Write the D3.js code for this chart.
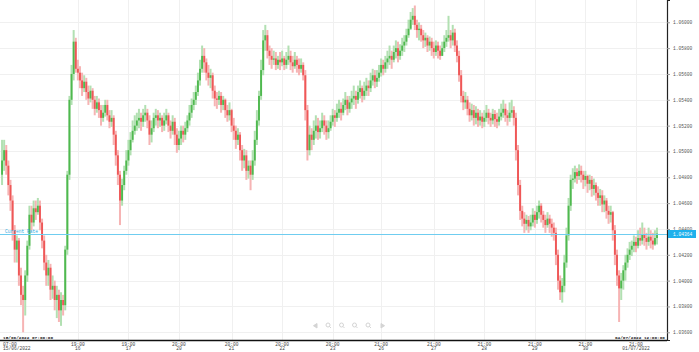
<!DOCTYPE html>
<html>
<head>
<meta charset="utf-8">
<script src="https://cdn.jsdelivr.net/npm/d3@7"></script>
<style>
  body { margin: 0; background: #fff; }
  svg { display: block; }
  text { font-family: "Liberation Mono", "DejaVu Sans Mono", monospace; }
</style>
</head>
<body>
<svg id="chart" width="699" height="352"></svg>
<script>
// hourly EUR/USD candles, 15/06/2022 07:00 -> 04/07/2022 12:00
const firstOpen = 1.0482;
const closes = [
  1.0493,1.0501,1.0489,1.0474,1.0462,1.0439,1.0424,1.0431,1.0404,1.0389,
  1.0385,1.0404,1.0427,1.0451,1.0445,1.0456,1.0453,1.0458,1.0445,1.0431,
  1.0414,1.0404,1.0410,1.0393,1.0396,1.0385,1.0389,1.0377,1.0385,1.0381,
  1.0424,1.0482,1.0540,1.0560,1.0585,1.0564,1.0561,1.0555,1.0549,1.0554,
  1.0546,1.0541,1.0547,1.0540,1.0533,1.0538,1.0532,1.0526,1.0530,1.0536,
  1.0528,1.0523,1.0526,1.0513,1.0497,1.0482,1.0462,1.0474,1.0485,1.0493,
  1.0501,1.0509,1.0516,1.0520,1.0524,1.0526,1.0523,1.0528,1.0530,1.0524,
  1.0513,1.0518,1.0526,1.0528,1.0524,1.0526,1.0520,1.0524,1.0528,1.0520,
  1.0516,1.0523,1.0513,1.0505,1.0510,1.0516,1.0513,1.0518,1.0524,1.0530,
  1.0536,1.0540,1.0546,1.0555,1.0564,1.0574,1.0569,1.0561,1.0557,1.0559,
  1.0547,1.0541,1.0540,1.0543,1.0536,1.0540,1.0532,1.0528,1.0532,1.0520,
  1.0516,1.0509,1.0513,1.0501,1.0493,1.0497,1.0485,1.0489,1.0482,1.0493,
  1.0509,1.0524,1.0543,1.0563,1.0586,1.0590,1.0578,1.0574,1.0571,1.0572,
  1.0567,1.0571,1.0569,1.0572,1.0567,1.0571,1.0574,1.0569,1.0566,1.0571,
  1.0567,1.0564,1.0567,1.0559,1.0532,1.0501,1.0513,1.0509,1.0516,1.0520,
  1.0515,1.0518,1.0524,1.0520,1.0515,1.0518,1.0523,1.0528,1.0526,1.0530,
  1.0533,1.0530,1.0536,1.0540,1.0533,1.0538,1.0541,1.0543,1.0540,1.0546,
  1.0549,1.0543,1.0547,1.0551,1.0549,1.0555,1.0559,1.0554,1.0557,1.0561,
  1.0567,1.0564,1.0569,1.0572,1.0574,1.0571,1.0577,1.0580,1.0574,1.0578,
  1.0582,1.0585,1.0590,1.0595,1.0602,1.0605,1.0598,1.0594,1.0595,1.0590,
  1.0586,1.0588,1.0582,1.0585,1.0580,1.0577,1.0582,1.0578,1.0574,1.0580,
  1.0585,1.0588,1.0590,1.0586,1.0592,1.0582,1.0574,1.0559,1.0543,1.0538,
  1.0540,1.0533,1.0528,1.0532,1.0526,1.0530,1.0524,1.0527,1.0523,1.0526,
  1.0530,1.0526,1.0524,1.0529,1.0525,1.0523,1.0527,1.0530,1.0533,1.0528,
  1.0526,1.0530,1.0532,1.0526,1.0501,1.0474,1.0454,1.0448,1.0444,1.0447,
  1.0442,1.0445,1.0451,1.0447,1.0453,1.0458,1.0451,1.0447,1.0443,1.0448,
  1.0444,1.0441,1.0437,1.0420,1.0400,1.0391,1.0396,1.0414,1.0435,1.0458,
  1.0478,1.0479,1.0484,1.0481,1.0485,1.0482,1.0478,1.0481,1.0475,1.0478,
  1.0471,1.0474,1.0468,1.0464,1.0466,1.0459,1.0462,1.0454,1.0451,1.0453,
  1.0439,1.0420,1.0404,1.0394,1.0400,1.0408,1.0414,1.0420,1.0424,1.0427,
  1.0430,1.0427,1.0433,1.0431,1.0436,1.0433,1.0430,1.0434,1.0431,1.0428,
  1.0433,1.04364
];
const highs = [
  1.0509,1.0509,1.0505,1.0493,1.0478,1.0466,1.0443,1.0435,1.0433,1.0410,
  1.0396,1.0408,1.0431,1.0458,1.0458,1.0462,1.0462,1.0464,1.0462,1.0448,
  1.0435,1.0420,1.0416,1.0413,1.0404,1.0400,1.0396,1.0393,1.0391,1.0389,
  1.0427,1.0485,1.0543,1.0567,1.0594,1.0588,1.0571,1.0566,1.0561,1.0559,
  1.0557,1.0551,1.0551,1.0549,1.0543,1.0543,1.0541,1.0536,1.0536,1.0540,
  1.0540,1.0532,1.0532,1.0528,1.0516,1.0501,1.0485,1.0479,1.0489,1.0501,
  1.0509,1.0515,1.0524,1.0528,1.0530,1.0533,1.0530,1.0533,1.0536,1.0533,
  1.0528,1.0524,1.0530,1.0533,1.0532,1.0530,1.0528,1.0530,1.0533,1.0530,
  1.0524,1.0528,1.0526,1.0518,1.0516,1.0520,1.0520,1.0523,1.0528,1.0536,
  1.0541,1.0546,1.0551,1.0561,1.0571,1.0582,1.0580,1.0572,1.0567,1.0564,
  1.0561,1.0551,1.0546,1.0547,1.0546,1.0543,1.0541,1.0536,1.0538,1.0533,
  1.0526,1.0520,1.0518,1.0515,1.0505,1.0502,1.0501,1.0493,1.0493,1.0501,
  1.0516,1.0532,1.0547,1.0571,1.0594,1.0598,1.0594,1.0582,1.0580,1.0578,
  1.0577,1.0574,1.0577,1.0578,1.0574,1.0577,1.0582,1.0578,1.0574,1.0577,
  1.0574,1.0572,1.0572,1.0569,1.0563,1.0536,1.0520,1.0518,1.0524,1.0528,
  1.0526,1.0524,1.0530,1.0528,1.0524,1.0524,1.0528,1.0533,1.0532,1.0537,
  1.0540,1.0538,1.0541,1.0546,1.0543,1.0543,1.0547,1.0551,1.0547,1.0551,
  1.0555,1.0551,1.0554,1.0557,1.0555,1.0561,1.0564,1.0563,1.0563,1.0567,
  1.0572,1.0571,1.0574,1.0578,1.0582,1.0578,1.0582,1.0586,1.0585,1.0583,
  1.0588,1.0590,1.0595,1.0602,1.0608,1.0611,1.0613,1.0602,1.0600,1.0598,
  1.0594,1.0592,1.0590,1.0589,1.0588,1.0585,1.0586,1.0585,1.0582,1.0585,
  1.0590,1.0594,1.0605,1.0594,1.0598,1.0595,1.0586,1.0578,1.0563,1.0547,
  1.0546,1.0543,1.0538,1.0537,1.0536,1.0535,1.0533,1.0532,1.0530,1.0532,
  1.0536,1.0533,1.0530,1.0533,1.0532,1.0530,1.0533,1.0537,1.0540,1.0537,
  1.0532,1.0538,1.0540,1.0535,1.0530,1.0505,1.0478,1.0458,1.0453,1.0451,
  1.0450,1.0451,1.0456,1.0454,1.0458,1.0462,1.0460,1.0454,1.0451,1.0453,
  1.0451,1.0448,1.0445,1.0441,1.0424,1.0404,1.0402,1.0420,1.0441,1.0464,
  1.0482,1.0487,1.0489,1.0487,1.0490,1.0489,1.0485,1.0485,1.0482,1.0482,
  1.0481,1.0479,1.0476,1.0473,1.0471,1.0470,1.0466,1.0464,1.0458,1.0458,
  1.0454,1.0443,1.0424,1.0408,1.0406,1.0412,1.0420,1.0425,1.0430,1.0431,
  1.0435,1.0434,1.0439,1.0441,1.0445,1.0441,1.0437,1.0441,1.0439,1.0437,
  1.0439,1.0441
];
const lows = [
  1.0474,1.0485,1.0482,1.0466,1.0454,1.0431,1.0414,1.0414,1.0396,1.0381,
  1.0360,1.0373,1.0399,1.0424,1.0439,1.0442,1.0447,1.0451,1.0439,1.0425,
  1.0408,1.0396,1.0396,1.0385,1.0386,1.0377,1.0371,1.0368,1.0365,1.0373,
  1.0377,1.0420,1.0478,1.0536,1.0555,1.0561,1.0555,1.0549,1.0543,1.0546,
  1.0540,1.0536,1.0538,1.0533,1.0528,1.0530,1.0526,1.0520,1.0523,1.0527,
  1.0524,1.0518,1.0519,1.0505,1.0489,1.0474,1.0443,1.0458,1.0470,1.0482,
  1.0489,1.0497,1.0507,1.0513,1.0516,1.0518,1.0516,1.0519,1.0523,1.0518,
  1.0505,1.0507,1.0515,1.0520,1.0518,1.0519,1.0515,1.0516,1.0521,1.0515,
  1.0510,1.0513,1.0505,1.0499,1.0501,1.0505,1.0507,1.0509,1.0515,1.0520,
  1.0526,1.0532,1.0536,1.0543,1.0551,1.0561,1.0561,1.0555,1.0551,1.0549,
  1.0541,1.0535,1.0533,1.0536,1.0530,1.0532,1.0526,1.0523,1.0524,1.0515,
  1.0509,1.0502,1.0505,1.0493,1.0485,1.0487,1.0478,1.0479,1.0470,1.0478,
  1.0489,1.0505,1.0520,1.0540,1.0559,1.0578,1.0572,1.0567,1.0564,1.0567,
  1.0563,1.0564,1.0563,1.0566,1.0563,1.0564,1.0567,1.0563,1.0561,1.0564,
  1.0561,1.0559,1.0561,1.0555,1.0524,1.0493,1.0497,1.0501,1.0505,1.0510,
  1.0509,1.0510,1.0515,1.0513,1.0509,1.0510,1.0516,1.0520,1.0519,1.0523,
  1.0526,1.0524,1.0528,1.0532,1.0528,1.0530,1.0533,1.0536,1.0533,1.0537,
  1.0541,1.0538,1.0540,1.0543,1.0543,1.0546,1.0551,1.0549,1.0550,1.0554,
  1.0558,1.0559,1.0561,1.0564,1.0567,1.0564,1.0569,1.0572,1.0569,1.0571,
  1.0574,1.0577,1.0582,1.0588,1.0594,1.0598,1.0594,1.0588,1.0586,1.0585,
  1.0580,1.0581,1.0577,1.0578,1.0574,1.0572,1.0574,1.0572,1.0571,1.0574,
  1.0577,1.0581,1.0585,1.0580,1.0582,1.0577,1.0569,1.0554,1.0538,1.0532,
  1.0533,1.0528,1.0523,1.0524,1.0520,1.0521,1.0519,1.0520,1.0518,1.0519,
  1.0523,1.0521,1.0519,1.0521,1.0519,1.0518,1.0520,1.0524,1.0526,1.0523,
  1.0520,1.0523,1.0526,1.0520,1.0493,1.0466,1.0447,1.0442,1.0437,1.0439,
  1.0437,1.0439,1.0442,1.0441,1.0444,1.0448,1.0445,1.0441,1.0437,1.0441,
  1.0437,1.0434,1.0431,1.0412,1.0393,1.0385,1.0383,1.0391,1.0410,1.0431,
  1.0454,1.0471,1.0476,1.0475,1.0478,1.0476,1.0471,1.0473,1.0468,1.0470,
  1.0465,1.0466,1.0462,1.0458,1.0458,1.0453,1.0453,1.0448,1.0444,1.0445,
  1.0431,1.0412,1.0396,1.0368,1.0385,1.0393,1.0400,1.0410,1.0416,1.0419,
  1.0422,1.0422,1.0425,1.0427,1.0428,1.0427,1.0424,1.0427,1.0425,1.0424,
  1.0427,1.0428
];

const yTicks = [1.036, 1.038, 1.040, 1.042, 1.044, 1.046, 1.048, 1.050, 1.052, 1.054, 1.056, 1.058, 1.060];
const xTickIndex = [0, 36, 60, 84, 109, 133, 157, 180, 205, 229, 253, 277, 301];
const xTickTime = ['07:00', '19:00', '19:00', '20:00', '20:00', '20:00', '20:00', '21:00', '21:00', '21:00', '21:00', '21:00', '21:00'];
const xTickDate = ['15/06/2022', '16', '17', '20', '21', '22', '23', '26', '27', '28', '29', '30', '01/07/2022'];
const currentRate = 1.04364;
const startLabel = '15/06/2022 07:00:00';
const endLabel = '04/07/2022 12:00:00';

const plotW = 667, plotH = 340;
const svg = d3.select('#chart');

const candles = closes.map((c, i) => ({
  i, close: c, open: i === 0 ? firstOpen : closes[i - 1], high: highs[i], low: lows[i]
}));

const x = d3.scaleBand().domain(d3.range(candles.length)).range([1, 1 + candles.length * 2.106]).padding(0);
const y = d3.scaleLinear().domain([1.035404, 1.061726]).range([plotH, 0]);
const cx = i => x(i) + x.bandwidth() / 2;

// grid
svg.append('g').selectAll('line').data(yTicks).join('line')
  .attr('x1', 0).attr('x2', plotW).attr('y1', d => Math.round(y(d)) + 0.5).attr('y2', d => Math.round(y(d)) + 0.5)
  .attr('stroke', '#f0f0f0');
svg.append('g').selectAll('line').data(xTickIndex.slice(1)).join('line')
  .attr('x1', d => Math.round(cx(d)) + 0.5).attr('x2', d => Math.round(cx(d)) + 0.5).attr('y1', 0).attr('y2', plotH)
  .attr('stroke', '#f0f0f0');

// candles: light wick behind, saturated body on top
const up = d => d.close >= d.open;
const g = svg.append('g');
g.selectAll('rect.wick').data(candles).join('rect').attr('class', 'wick')
  .attr('x', d => cx(d.i) - 1).attr('width', 2)
  .attr('y', d => y(Math.max(d.high, d.open, d.close)))
  .attr('height', d => Math.max(1, y(Math.min(d.low, d.open, d.close)) - y(Math.max(d.high, d.open, d.close))))
  .attr('fill', d => up(d) ? '#b2e0b2' : '#f6b4b4');
g.selectAll('rect.body').data(candles).join('rect').attr('class', 'body')
  .attr('x', d => cx(d.i) - 0.95).attr('width', 1.9)
  .attr('y', d => y(Math.max(d.open, d.close)))
  .attr('height', d => Math.max(1, Math.abs(y(d.open) - y(d.close))))
  .attr('fill', d => up(d) ? '#4fb94f' : '#ef5757');

// current rate line
const yr = Math.round(y(currentRate)) + 0.5;
svg.append('line').attr('x1', 0).attr('x2', plotW).attr('y1', yr).attr('y2', yr)
  .attr('stroke', '#6fcdf0').attr('stroke-width', 1);
svg.append('text').attr('x', 5).attr('y', yr - 2).attr('font-size', 4.6).attr('fill', '#2aa8e0')
  .text('Current Rate');

// right axis
const yAxis = d3.axisRight(y).tickValues(yTicks).tickSize(3).tickFormat(d3.format('.5f'));
const ya = svg.append('g').attr('transform', `translate(${plotW},0)`).call(yAxis);
ya.select('.domain').attr('stroke', '#222').attr('stroke-width', 1.2);
ya.selectAll('.tick line').attr('stroke', '#999');
ya.selectAll('text').attr('font-size', 4.6).attr('fill', '#555').attr('x', 6)
  .attr('font-family', '"Liberation Mono", monospace');

// rate badge on the axis
svg.append('rect').attr('x', plotW + 1).attr('y', yr - 4.5).attr('width', 28).attr('height', 8).attr('fill', '#1fb1ec');
svg.append('text').attr('x', plotW + 6).attr('y', yr + 1.8).attr('font-size', 4.6).attr('fill', '#fff')
  .text(d3.format('.5f')(currentRate));

// bottom axis line
svg.append('line').attr('x1', 0).attr('x2', plotW).attr('y1', plotH + 0.5).attr('y2', plotH + 0.5)
  .attr('stroke', '#111').attr('stroke-width', 1.6);

// x tick labels
const xl = svg.append('g').attr('font-size', 4.6).attr('fill', '#444');
xTickIndex.forEach((idx, k) => {
  const px = k === 0 ? 3 : cx(idx);
  const anchor = k === 0 ? 'start' : 'middle';
  xl.append('text').attr('x', px).attr('y', 345.5).attr('text-anchor', anchor).text(xTickTime[k]);
  xl.append('text').attr('x', px).attr('y', 350.3).attr('text-anchor', anchor).text(xTickDate[k]);
});

// range labels
svg.append('text').attr('x', 3).attr('y', 338.5).attr('font-size', 4.4).attr('font-weight', 'bold')
  .attr('fill', '#222').text(startLabel);
svg.append('text').attr('x', plotW - 2).attr('y', 338.5).attr('font-size', 4.4).attr('font-weight', 'bold')
  .attr('text-anchor', 'end').attr('fill', '#222').text(endLabel);

// navigator icons (faint)
const nav = svg.append('g').attr('fill', 'none').attr('stroke', '#d4d4d4').attr('stroke-width', 1);
nav.append('path').attr('d', 'M317,323.5 L313.5,325.7 L317,328 Z').attr('fill', '#d4d4d4');
nav.append('path').attr('d', 'M381,323.5 L384.5,325.7 L381,328 Z').attr('fill', '#d4d4d4');
[328, 341.5, 354.5, 368].forEach(px => {
  nav.append('circle').attr('cx', px).attr('cy', 325).attr('r', 2);
  nav.append('line').attr('x1', px + 1.4).attr('y1', 326.4).attr('x2', px + 3).attr('y2', 328);
});
</script>
</body>
</html>
